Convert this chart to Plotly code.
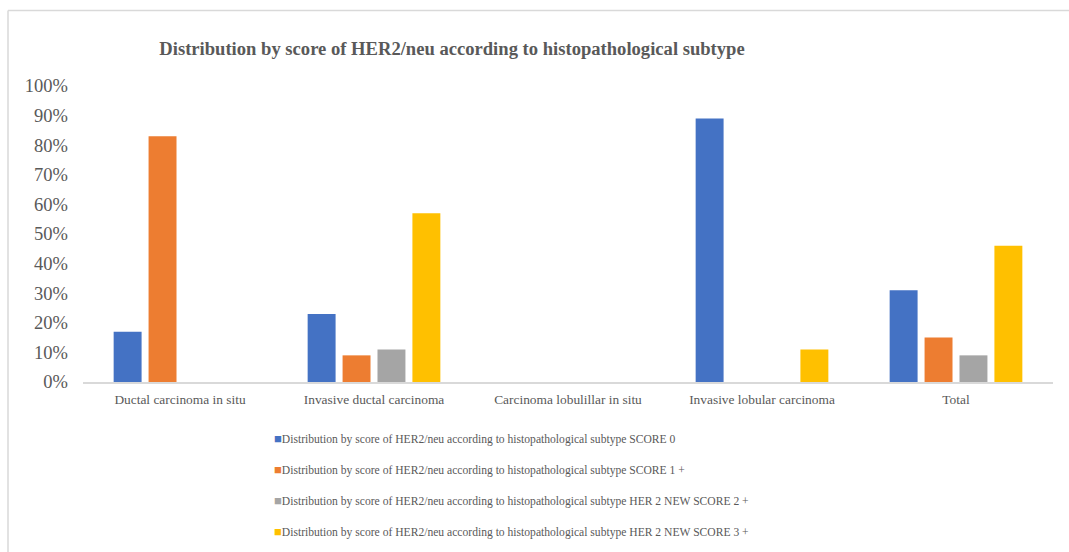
import plotly.graph_objects as go

categories = ["Ductal carcinoma in situ", "Invasive ductal carcinoma", "Carcinoma lobulillar in situ",
              "Invasive lobular carcinoma", "Total"]
score0 = [0.17, 0.23, 0.0, 0.89, 0.31]
score1 = [0.83, 0.09, 0.0, 0.0, 0.15]
score2 = [0.0, 0.11, 0.0, 0.0, 0.09]
score3 = [0.0, 0.57, 0.0, 0.11, 0.46]
series_names = [
    "Distribution by score of HER2/neu according to histopathological subtype SCORE 0",
    "Distribution by score of HER2/neu according to histopathological subtype SCORE 1 +",
    "Distribution by score of HER2/neu according to histopathological subtype HER 2 NEW SCORE 2 +",
    "Distribution by score of HER2/neu according to histopathological subtype HER 2 NEW SCORE 3 +",
]
colors = ["#4472C4", "#ED7D31", "#A5A5A5", "#FFC000"]
title = "Distribution by score of HER2/neu according to histopathological subtype"

FONT = "'Liberation Serif', 'Times New Roman', serif"

fig = go.Figure()
for i, (name, vals) in enumerate(zip(series_names, [score0, score1, score2, score3])):
    fig.add_trace(go.Bar(x=categories, y=vals, name=name, marker_color=colors[i],
                         marker_line_width=0, showlegend=False))

W, H = 1069, 552
ml, mr, mt, mb = 83, W - 1053, 86, H - 382
pw, ph = W - ml - mr, H - mt - mb

# legend drawn as annotations (small square + text)
annotations = []
legend_rows_px = [438, 469, 500, 531]
for i, name in enumerate(series_names):
    annotations.append(dict(
        xref="paper", yref="paper", x=(272 - ml) / pw, y=(382 - legend_rows_px[i]) / ph,
        xanchor="left", yanchor="middle", showarrow=False, align="left",
        text=f"<span style='color:{colors[i]};font-size:13px'>■</span>" + name,
        font=dict(size=11.6, color="#595959", family=FONT),
    ))

fig.update_layout(
    width=W, height=H,
    margin=dict(l=ml, r=mr, t=mt, b=mb, autoexpand=False),
    paper_bgcolor="white", plot_bgcolor="white",
    font=dict(family=FONT, color="#595959"),
    title=dict(text="<b>" + title + "</b>", x=452 / W, xanchor="center", y=1 - 48 / H, yanchor="middle",
               font=dict(size=18.6, color="#595959", family=FONT)),
    barmode="group", bargap=0.28, bargroupgap=0.2,
    showlegend=False,
    xaxis=dict(showline=True, linecolor="#d9d9d9", linewidth=1.5, ticks="", tickfont=dict(size=13.4, family=FONT),
               showgrid=False, fixedrange=True, ticklabelstandoff=4, automargin=False),
    yaxis=dict(range=[0, 1], tickvals=[i / 10 for i in range(11)], tickformat=".0%", showgrid=False,
               zeroline=False, showline=False, tickfont=dict(size=18.5, family=FONT), ticks="",
               ticklabelstandoff=14, automargin=False),
    annotations=annotations,
    shapes=[
        dict(type="line", xref="paper", yref="paper", x0=(8 - ml) / pw, x1=(1069 - ml) / pw,
             y0=(382 - 10.5) / ph, y1=(382 - 10.5) / ph, line=dict(color="#d9d9d9", width=1.5)),
        dict(type="line", xref="paper", yref="paper", x0=(8 - ml) / pw, x1=(8 - ml) / pw,
             y0=(382 - 10.5) / ph, y1=(382 - 560) / ph, line=dict(color="#d9d9d9", width=1.5)),
    ],
)
fig.write_html("out.html")
